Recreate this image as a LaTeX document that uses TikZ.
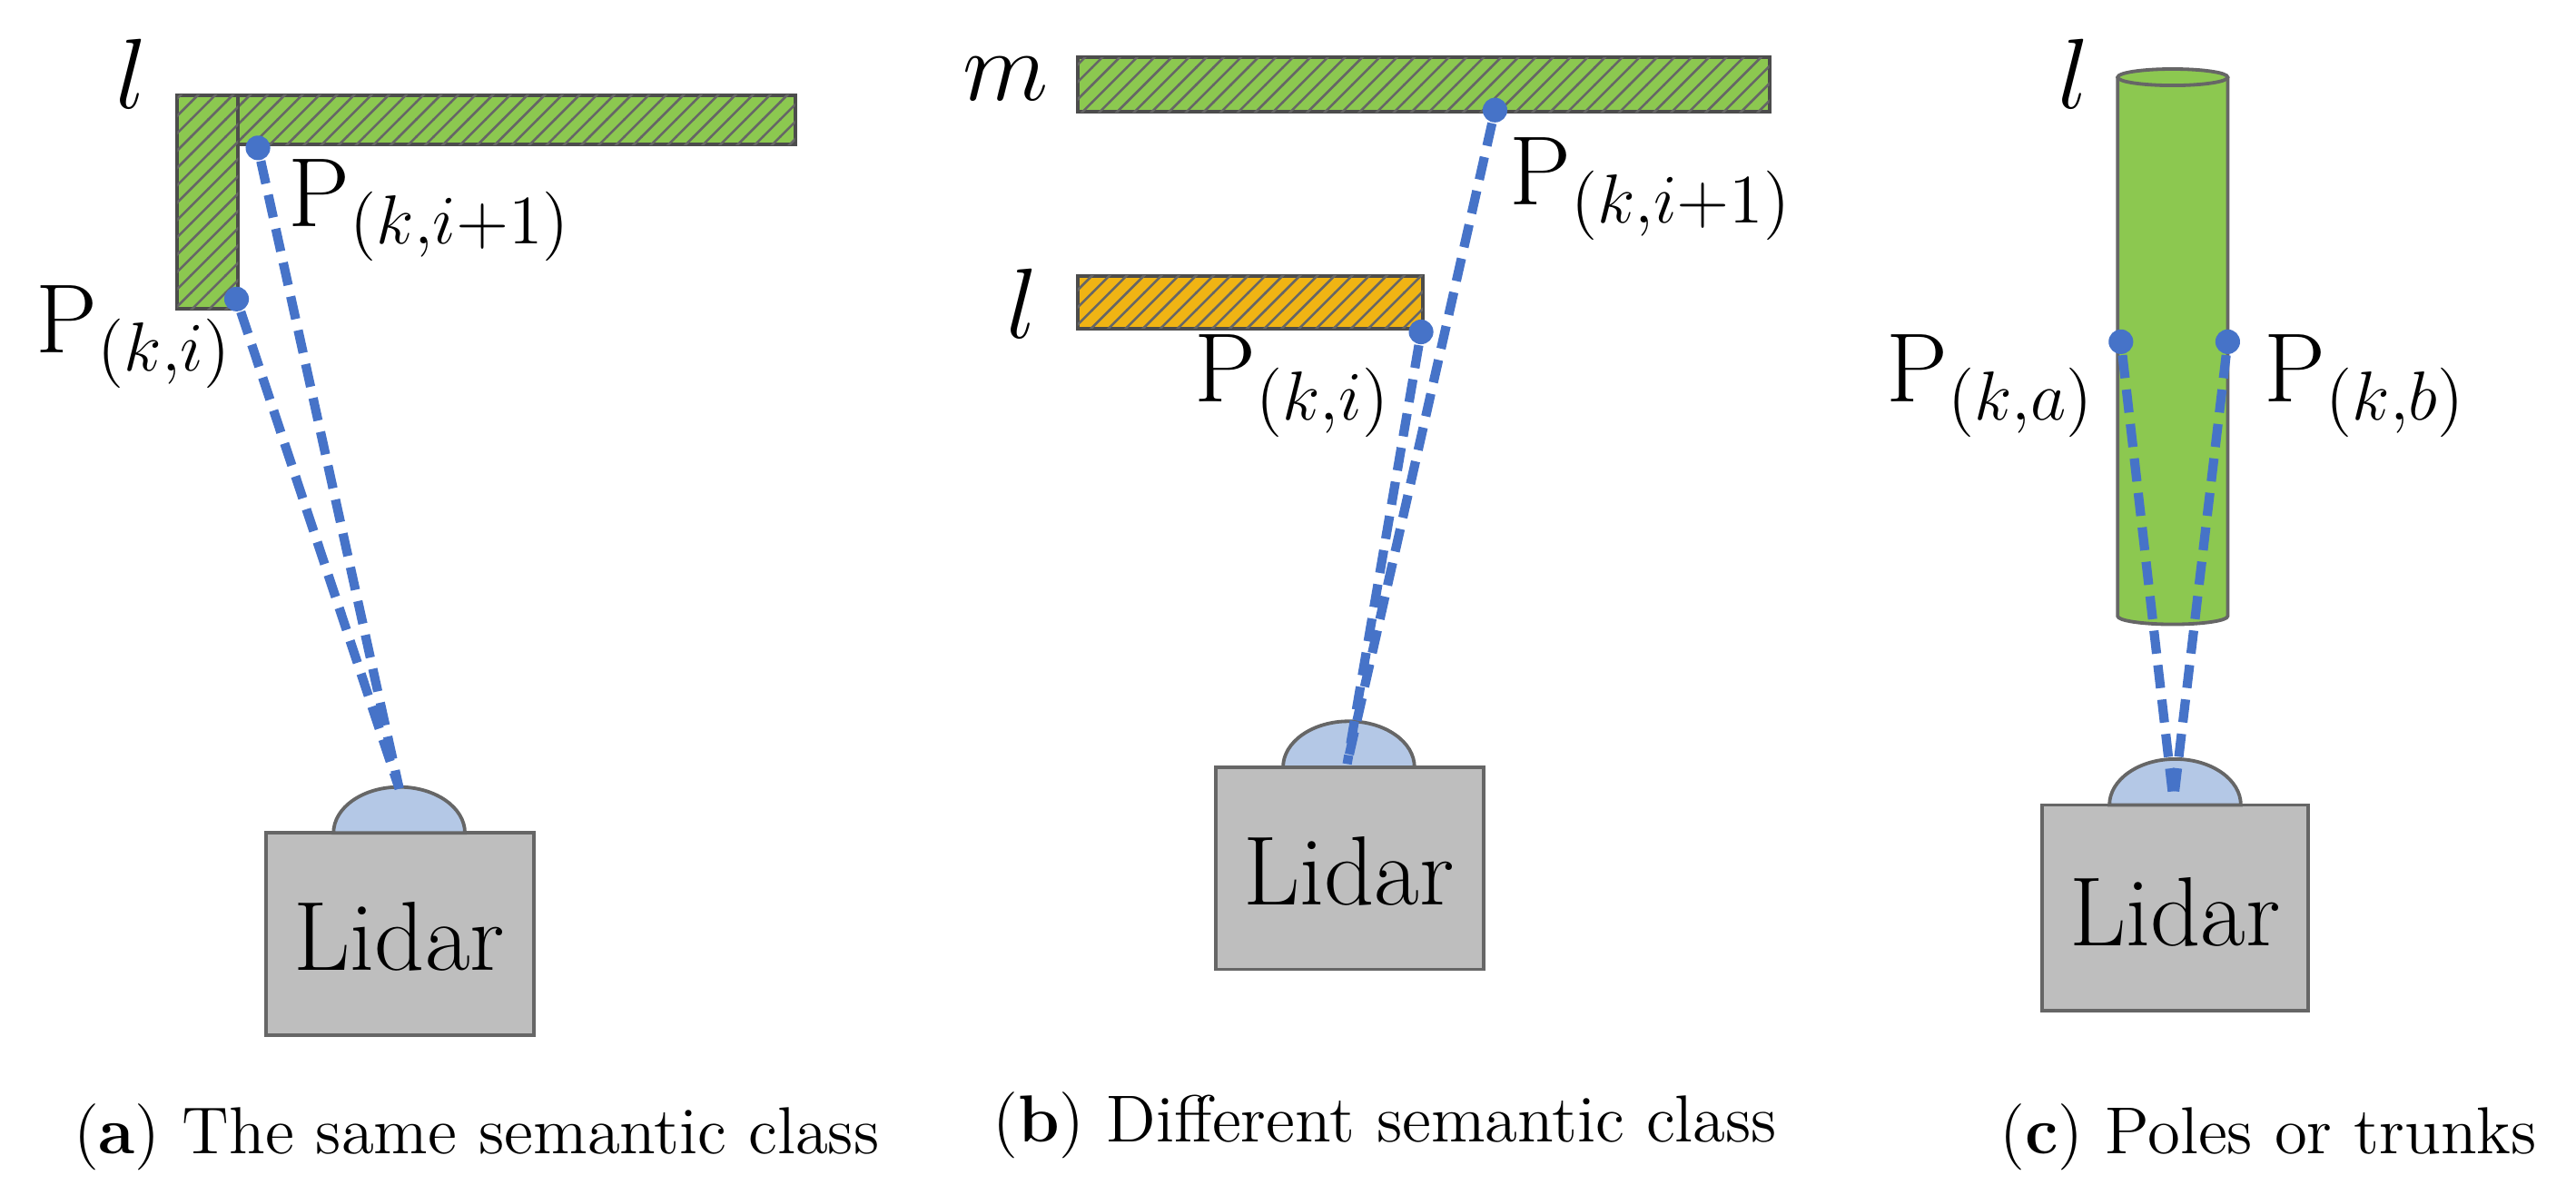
\documentclass[tikz,border=0pt]{standalone}
\usepackage{amsmath}
\usetikzlibrary{patterns}
\definecolor{gr}{RGB}{140,200,80}
\definecolor{og}{RGB}{240,180,20}
\definecolor{dm}{RGB}{180,200,230}
\definecolor{bx}{RGB}{190,190,190}
\definecolor{bl}{RGB}{70,115,200}
\begin{document}
\begin{tikzpicture}[x=0.01cm,y=-0.01cm,
 bar/.style={draw=black!70,line width=0.6pt,postaction={pattern=north east lines,pattern color=black!60}},
 box/.style={draw=black!60,fill=bx,line width=0.6pt},
 dome/.style={draw=black!60,fill=dm,line width=0.6pt},
 pt/.style={circle,fill=bl,inner sep=0pt,minimum size=0.15cm},
 ray/.style={bl,line width=1.6pt,dash pattern=on 4pt off 2pt},
 lab/.style={font=\fontsize{17}{19}\selectfont},
 captxt/.style={font=\fontsize{11.5}{13}\selectfont}]
\useasboundingbox (0,0) rectangle (1568,727);
% ---- (a)
\path[bar,fill=gr] (108,58) rectangle (484,88);
\path[bar,fill=gr] (108,58) rectangle (145,188);
\draw[box] (162,507) rectangle (325,630);
\node[lab] (la) at (243,570) {Lidar};
\draw[dome] (203,507) arc (180:360:40 and 28) -- cycle;
\coordinate (sa) at (243,480);
\node[pt] (a1) at (157,90) {};
\node[pt] (a2) at (144,182) {};
\draw[ray] (a1) -- (sa);
\draw[ray] (a2) -- (sa);
\node[lab] (al) at (80,45) {$l$};
\node[lab] (a1l) at (262,128) {P$_{(k,i+1)}$};
\node[lab] (a2l) at (82,205) {P$_{(k,i)}$};
\node[captxt] (ca) at (290,692) {(\textbf{a}) The same semantic class};
% ---- (b)
\path[bar,fill=gr] (656,35) rectangle (1077,68);
\path[bar,fill=og] (656,168) rectangle (866,200);
\draw[box] (740,467) rectangle (903,590);
\node[lab] (lb) at (821,530) {Lidar};
\draw[dome] (781,467) arc (180:360:40 and 28) -- cycle;
\coordinate (sb) at (820,465);
\node[pt] (b1) at (910,67) {};
\node[pt] (b2) at (865,202) {};
\draw[ray] (b1) -- (sb);
\draw[ray] (b2) -- (sb);
\node[lab] (bm) at (612,48) {$m$};
\node[lab] (bl2) at (622,185) {$l$};
\node[lab] (b1l) at (1005,115) {P$_{(k,i+1)}$};
\node[lab] (b2l) at (787,235) {P$_{(k,i)}$};
\node[captxt] (cb) at (843,685) {(\textbf{b}) Different semantic class};
% ---- (c)
\fill[gr] (1289,47) rectangle (1356,375);
\fill[gr] (1322.5,375) ellipse (33.5 and 5);
\draw[black!60,line width=0.6pt] (1289,47) -- (1289,375) arc (180:0:33.5 and 5) -- (1356,47);
\draw[black!60,fill=gr,line width=0.6pt] (1322.5,47) ellipse (33.5 and 5);
\draw[box] (1243,490) rectangle (1405,615);
\node[lab] (lc) at (1324,555) {Lidar};
\draw[dome] (1284,490) arc (180:360:40 and 28) -- cycle;
\coordinate (sc) at (1323,488);
\node[pt] (c1) at (1291,208) {};
\node[pt] (c2) at (1356,208) {};
\draw[ray] (c1) -- (sc);
\draw[ray] (c2) -- (sc);
\node[lab] (cl) at (1262,45) {$l$};
\node[lab] (c1l) at (1212,235) {P$_{(k,a)}$};
\node[lab] (c2l) at (1440,235) {P$_{(k,b)}$};
\node[captxt,anchor=east,inner sep=0pt] (cc) at (1545,692) {(\textbf{c}) Poles or trunks};
\end{tikzpicture}
\end{document}
